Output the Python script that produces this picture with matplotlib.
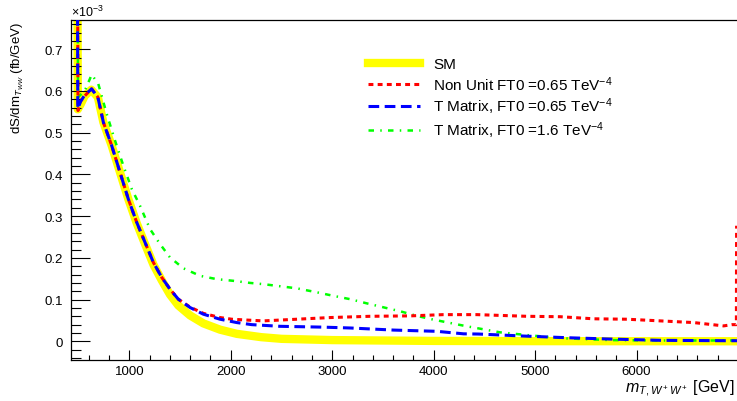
import matplotlib
matplotlib.use("Agg")
import matplotlib.pyplot as plt
from matplotlib.ticker import MultipleLocator
from matplotlib.lines import Line2D

plt.rcParams['font.family'] = ['Liberation Sans', 'DejaVu Sans']
plt.rcParams['mathtext.fontset'] = 'custom'
plt.rcParams['mathtext.rm'] = 'Liberation Sans'
plt.rcParams['mathtext.it'] = 'Liberation Sans:italic'

# values in units of 1e-3 fb/GeV, x in GeV
sm_x = [482, 492, 520, 560, 625, 690, 744, 826, 908, 990, 1073, 1155, 1237, 1320,
        1401, 1483, 1599, 1730, 1894, 2059, 2300, 2500, 3000, 3500, 4000, 5000, 6000, 6990]
sm_y = [1.5, 0.556, 0.568, 0.588, 0.603, 0.585, 0.525, 0.469, 0.405, 0.341, 0.283, 0.233,
        0.184, 0.146, 0.112, 0.086, 0.062, 0.043, 0.028, 0.018, 0.010, 0.006, 0.003,
        0.002, 0.001, 0.0005, 0.0003, 0.0002]

red_x = [482, 494, 515, 560, 628, 690, 744, 826, 908, 990, 1073, 1155, 1237, 1320, 1401,
         1483, 1599, 1730, 1894, 2010, 2157, 2322, 2651, 2979, 3374, 3768, 4097, 4426,
         4919, 5248, 5576, 5905, 6234, 6562, 6858, 6940, 6984, 6986]
red_y = [1.5, 0.553, 0.574, 0.588, 0.605, 0.585, 0.525, 0.469, 0.405, 0.341, 0.285, 0.237,
         0.189, 0.153, 0.125, 0.101, 0.082, 0.067, 0.057, 0.053, 0.051, 0.049, 0.053,
         0.057, 0.060, 0.061, 0.064, 0.064, 0.060, 0.059, 0.054, 0.053, 0.049, 0.045,
         0.037, 0.040, 0.040, 0.277]

blue_x = [482, 492, 520, 560, 628, 690, 744, 826, 908, 990, 1073, 1155, 1237, 1320, 1401,
          1483, 1599, 1730, 1894, 2059, 2207, 2486, 2913, 3177, 3604, 4032, 4294, 4442,
          4886, 5314, 5740, 6234, 6891, 6990]
blue_y = [1.5, 0.557, 0.575, 0.590, 0.605, 0.585, 0.525, 0.469, 0.405, 0.341, 0.285, 0.237,
          0.189, 0.153, 0.125, 0.101, 0.081, 0.065, 0.053, 0.045, 0.040, 0.036, 0.034,
          0.032, 0.027, 0.024, 0.018, 0.0175, 0.0127, 0.0087, 0.0055, 0.0024, 0.0015, 0.0015]

green_x = [482, 494, 560, 629, 694, 777, 859, 941, 1024, 1105, 1204, 1303, 1401, 1533,
           1697, 1862, 2026, 2190, 2322, 2651, 2848, 3012, 3177, 3341, 3505, 3670, 3834,
           3998, 4163, 4327, 4442, 4656, 4984, 5314, 5740, 6300, 6990]
green_y = [1.5, 0.585, 0.600, 0.639, 0.617, 0.545, 0.481, 0.421, 0.365, 0.325, 0.269, 0.233,
           0.201, 0.175, 0.157, 0.149, 0.145, 0.140, 0.137, 0.127, 0.1175, 0.109, 0.101,
           0.091, 0.0815, 0.072, 0.061, 0.052, 0.044, 0.036, 0.031, 0.0215, 0.0135, 0.007,
           0.003, 0.002, 0.002]

labels = ['SM', 'Non Unit FT0 =0.65 TeV$^{-4}$', 'T Matrix, FT0 =0.65 TeV$^{-4}$',
          'T Matrix, FT0 =1.6 TeV$^{-4}$']

fig = plt.figure(figsize=(7.37, 4.02), dpi=100)
ax = fig.add_axes([71/737, 41.3/402, 666/737, 339.7/402])

ax.plot(sm_x, sm_y, color='#ffff00', lw=6, solid_capstyle='butt', zorder=1)
ax.plot(red_x, red_y, color='#ff0000', lw=2.2, linestyle=(0, (1.6, 1.4)), zorder=3)
ax.plot(blue_x, blue_y, color='#0000ff', lw=2.2, linestyle=(0, (3.5, 1.8)), zorder=4)
ax.plot(green_x, green_y, color='#00ff00', lw=1.8, linestyle=(0, (2.2, 2.5, 0.6, 2.5)), zorder=2)

ax.set_xlim(425, 6990)
ax.set_ylim(-0.044, 0.770)
ax.xaxis.set_major_locator(MultipleLocator(1000))
ax.xaxis.set_minor_locator(MultipleLocator(200))
ax.yaxis.set_major_locator(MultipleLocator(0.1))
ax.yaxis.set_minor_locator(MultipleLocator(0.02))
ax.yaxis.set_major_formatter(plt.FuncFormatter(lambda v, p: '0' if abs(v) < 1e-9 else f'{v:.1f}'))

ax.tick_params(axis='x', which='major', direction='in', length=7.2, width=0.8, labelsize=9.5, pad=4)
ax.tick_params(axis='x', which='minor', direction='in', length=3.6, width=0.8)
ax.tick_params(axis='y', which='major', direction='in', length=13.5, width=0.8, labelsize=9.5, pad=6)
ax.tick_params(axis='y', which='minor', direction='in', length=7, width=0.8)
ax.spines['right'].set_visible(False)
for s in ['left', 'bottom', 'top']:
    ax.spines[s].set_linewidth(0.9)

handles = [Line2D([], [], color='#ffff00', lw=6),
           Line2D([], [], color='#ff0000', lw=2.2, linestyle=(0, (1.6, 1.4))),
           Line2D([], [], color='#0000ff', lw=2.2, linestyle=(0, (3.5, 1.8))),
           Line2D([], [], color='#00ff00', lw=1.8, linestyle=(0, (2.2, 2.5, 0.6, 2.5)))]
fig.legend(handles, labels, loc='upper left', bbox_to_anchor=(368/737, 1 - 58/402),
           frameon=False, fontsize=11, handlelength=3.4, handletextpad=0.85,
           labelspacing=0.2, borderpad=0, borderaxespad=0)

fig.text(71/737, 1 - 12/402, r'$\times$10$^{-3}$', fontsize=9, ha='left', va='center')
fig.text(18/737, 1 - 22/402, r'dS/dm$_{T_{WW}}$ (fb/GeV)', rotation=90, fontsize=9.5,
         ha='center', va='top')
fig.text(735/737, 1 - 389/402, r'$m_{T,W^+W^+}$ [GeV]', fontsize=11.5, ha='right', va='center')

fig.savefig('out.png', dpi=100)
